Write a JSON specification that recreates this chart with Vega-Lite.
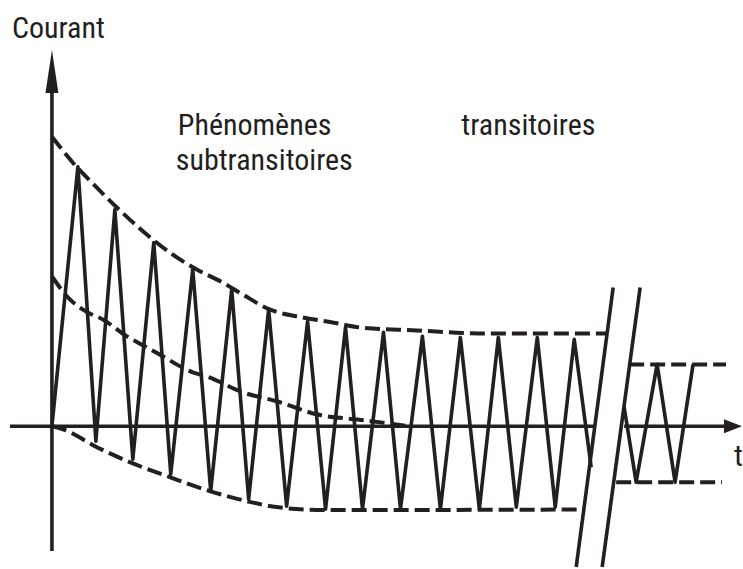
{
  "$schema": "https://vega.github.io/schema/vega-lite/v6.json",
  "width": 743,
  "height": 569,
  "padding": 0,
  "autosize": {"type": "fit", "contains": "padding"},
  "background": "white",
  "config": {"view": {"stroke": null}},
  "datasets": {
    "solid": [
      {"series": "wave1", "t": 0, "i": 0},
      {"series": "wave1", "t": 13.58, "i": 4.333},
      {"series": "wave1", "t": 22.98, "i": -0.25},
      {"series": "wave1", "t": 32.9, "i": 3.617},
      {"series": "wave1", "t": 42.3, "i": -0.55},
      {"series": "wave1", "t": 53.26, "i": 3.067},
      {"series": "wave1", "t": 62.14, "i": -0.8},
      {"series": "wave1", "t": 73.63, "i": 2.617},
      {"series": "wave1", "t": 83.03, "i": -1.083},
      {"series": "wave1", "t": 94.0, "i": 2.283},
      {"series": "wave1", "t": 102.87, "i": -1.217},
      {"series": "wave1", "t": 113.32, "i": 1.95},
      {"series": "wave1", "t": 122.72, "i": -1.333},
      {"series": "wave1", "t": 133.68, "i": 1.75},
      {"series": "wave1", "t": 143.08, "i": -1.383},
      {"series": "wave1", "t": 153.52, "i": 1.65},
      {"series": "wave1", "t": 162.4, "i": -1.383},
      {"series": "wave1", "t": 173.37, "i": 1.567},
      {"series": "wave1", "t": 182.25, "i": -1.383},
      {"series": "wave1", "t": 193.73, "i": 1.5},
      {"series": "wave1", "t": 203.13, "i": -1.383},
      {"series": "wave1", "t": 213.58, "i": 1.483},
      {"series": "wave1", "t": 223.5, "i": -1.383},
      {"series": "wave1", "t": 233.42, "i": 1.483},
      {"series": "wave1", "t": 242.82, "i": -1.35},
      {"series": "wave1", "t": 253.79, "i": 1.483},
      {"series": "wave1", "t": 263.19, "i": -1.35},
      {"series": "wave1", "t": 273.11, "i": 1.45},
      {"series": "wave1", "t": 281.98, "i": -0.683},
      {"series": "wave2", "t": 299.22, "i": 0.317},
      {"series": "wave2", "t": 305.48, "i": -0.933},
      {"series": "wave2", "t": 316.45, "i": 1.033},
      {"series": "wave2", "t": 325.85, "i": -0.933},
      {"series": "wave2", "t": 335.25, "i": 1.033},
      {"series": "yaxis", "t": 0, "i": -2.083},
      {"series": "yaxis", "t": 0, "i": 5.617},
      {"series": "xaxis1", "t": -21.93, "i": 0},
      {"series": "xaxis1", "t": 283.55, "i": 0},
      {"series": "xaxis2", "t": 299.22, "i": 0},
      {"series": "xaxis2", "t": 353.0, "i": 0},
      {"series": "break1", "t": 274.15, "i": -2.35},
      {"series": "break1", "t": 293.47, "i": 2.317},
      {"series": "break2", "t": 287.73, "i": -2.35},
      {"series": "break2", "t": 307.57, "i": 2.317}
    ],
    "dashed": [
      {"series": "upper", "t": 0, "i": 4.833},
      {"series": "upper", "t": 10.97, "i": 4.4},
      {"series": "upper", "t": 23.5, "i": 3.983},
      {"series": "upper", "t": 40.73, "i": 3.45},
      {"series": "upper", "t": 49.61, "i": 3.2},
      {"series": "upper", "t": 61.62, "i": 2.9},
      {"series": "upper", "t": 75.72, "i": 2.617},
      {"series": "upper", "t": 89.3, "i": 2.4},
      {"series": "upper", "t": 99.74, "i": 2.2},
      {"series": "upper", "t": 113.84, "i": 1.95},
      {"series": "upper", "t": 131.07, "i": 1.817},
      {"series": "upper", "t": 146.74, "i": 1.733},
      {"series": "upper", "t": 160.84, "i": 1.65},
      {"series": "upper", "t": 190.6, "i": 1.6},
      {"series": "upper", "t": 223.5, "i": 1.55},
      {"series": "upper", "t": 290.34, "i": 1.55},
      {"series": "dc", "t": 0, "i": 2.5},
      {"series": "dc", "t": 9.4, "i": 2.117},
      {"series": "dc", "t": 18.8, "i": 1.9},
      {"series": "dc", "t": 26.63, "i": 1.783},
      {"series": "dc", "t": 39.16, "i": 1.5},
      {"series": "dc", "t": 49.61, "i": 1.317},
      {"series": "dc", "t": 57.96, "i": 1.167},
      {"series": "dc", "t": 73.63, "i": 0.9},
      {"series": "dc", "t": 80.94, "i": 0.833},
      {"series": "dc", "t": 99.74, "i": 0.567},
      {"series": "dc", "t": 117.49, "i": 0.417},
      {"series": "dc", "t": 138.38, "i": 0.2},
      {"series": "dc", "t": 163.45, "i": 0.1},
      {"series": "dc", "t": 186.95, "i": 0},
      {"series": "lower", "t": 0, "i": 0},
      {"series": "lower", "t": 5.74, "i": -0.05},
      {"series": "lower", "t": 23.5, "i": -0.35},
      {"series": "lower", "t": 40.73, "i": -0.6},
      {"series": "lower", "t": 61.62, "i": -0.85},
      {"series": "lower", "t": 82.51, "i": -1.083},
      {"series": "lower", "t": 101.83, "i": -1.25},
      {"series": "lower", "t": 117.49, "i": -1.35},
      {"series": "lower", "t": 143.08, "i": -1.4},
      {"series": "lower", "t": 278.33, "i": -1.39},
      {"series": "upper2", "t": 301.83, "i": 1.033},
      {"series": "upper2", "t": 352.48, "i": 1.033},
      {"series": "lower2", "t": 295.04, "i": -0.933},
      {"series": "lower2", "t": 350.39, "i": -0.933}
    ],
    "arrows": [
      {"axis": "y", "t": 0, "i": 5.925},
      {"axis": "x", "t": 356.14, "i": 0}
    ],
    "labels": [
      {"label": "Courant", "t": -20.89, "i": 6.483},
      {"label": "Phénomènes", "t": 65.8, "i": 4.867},
      {"label": "subtransitoires", "t": 64.75, "i": 4.283},
      {"label": "transitoires", "t": 214.1, "i": 4.867},
      {"label": "t", "t": 356.66, "i": -0.667}
    ]
  },
  "layer": [
    {
      "data": {"name": "dashed"},
      "mark": {"type": "line", "color": "#231f20", "strokeWidth": 4, "strokeDash": [15, 6], "interpolate": "monotone"},
      "encoding": {
        "x": {"field": "t", "type": "quantitative", "scale": {"domain": [-27.154, 360.84], "nice": false, "zero": false}, "axis": null},
        "y": {"field": "i", "type": "quantitative", "scale": {"domain": [-2.3667, 7.1167], "nice": false, "zero": false}, "axis": null},
        "detail": {"field": "series"}
      }
    },
    {
      "data": {"name": "solid"},
      "mark": {"type": "line", "color": "#231f20", "strokeWidth": 3.6, "strokeJoin": "round"},
      "encoding": {
        "x": {"field": "t", "type": "quantitative"},
        "y": {"field": "i", "type": "quantitative"},
        "detail": {"field": "series"}
      }
    },
    {
      "data": {"name": "arrows"},
      "transform": [{"filter": "datum.axis === 'y'"}],
      "mark": {"type": "point", "filled": true, "opacity": 1, "color": "#231f20", "strokeWidth": 0, "size": 1849, "shape": "M0,-1L0.3,1L-0.3,1Z"},
      "encoding": {
        "x": {"field": "t", "type": "quantitative"},
        "y": {"field": "i", "type": "quantitative"}
      }
    },
    {
      "data": {"name": "arrows"},
      "transform": [{"filter": "datum.axis === 'x'"}],
      "mark": {"type": "point", "filled": true, "opacity": 1, "color": "#231f20", "strokeWidth": 0, "size": 324, "shape": "M1,0L-1,0.78L-1,-0.78Z"},
      "encoding": {
        "x": {"field": "t", "type": "quantitative"},
        "y": {"field": "i", "type": "quantitative"}
      }
    },
    {
      "data": {"name": "labels"},
      "mark": {"type": "text", "align": "left", "baseline": "alphabetic", "font": "Roboto Condensed, DejaVu Sans Condensed, sans-serif", "fontSize": 30, "color": "#231f20"},
      "encoding": {
        "x": {"field": "t", "type": "quantitative"},
        "y": {"field": "i", "type": "quantitative"},
        "text": {"field": "label"}
      }
    }
  ]
}
